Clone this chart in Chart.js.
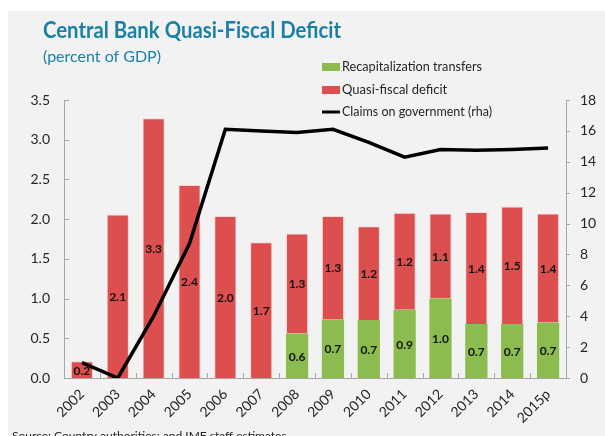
<!DOCTYPE html>
<html>
<head>
<meta charset="utf-8">
<script src="https://cdn.jsdelivr.net/npm/chart.js@4"></script>
<style>
  html, body { margin: 0; padding: 0; background: #fff; }
  #wrap { width: 605px; height: 436px; }
</style>
</head>
<body>
<div id="wrap"><canvas id="chart" width="605" height="436"></canvas></div>
<script>
// chart data
const years = ['2002', '2003', '2004', '2005', '2006', '2007', '2008', '2009', '2010', '2011', '2012', '2013', '2014', '2015p'];
const recapTransfers = [null, null, null, null, null, null, 0.56, 0.74, 0.73, 0.86, 1.0, 0.68, 0.68, 0.70];
const quasiDeficit = [0.21, 2.06, 3.27, 2.43, 2.04, 1.71, 1.26, 1.30, 1.18, 1.22, 1.07, 1.41, 1.48, 1.37];
const claimsOnGov = [1.0, 0, 4.0, 8.7, 16.1, 16.0, 15.9, 16.1, 15.25, 14.3, 14.8, 14.75, 14.8, 14.9];
const leftTicks = [0, 0.5, 1.0, 1.5, 2.0, 2.5, 3.0, 3.5];
const rightTicks = [0, 2, 4, 6, 8, 10, 12, 14, 16, 18];

const GREEN = '#8cbc4f';
const RED = '#dd4f4f';
const AXIS = '#a6a6a6';
const TEXT = '#262626';
const TICK_FONT = { family: 'Lato, "Open Sans", sans-serif', size: 14 };

// background, title, legend and source note
const decorations = {
    id: 'decorations',
    beforeDraw(chart) {
        const ctx = chart.ctx;
        ctx.save();
        ctx.fillStyle = '#fff';
        ctx.fillRect(0, 0, chart.width, chart.height);
        ctx.fillStyle = '#f2f2f2';
        ctx.fillRect(8, 11, chart.width - 8, chart.height - 11);
        ctx.restore();
    },
    beforeDatasetsDraw(chart) {
        // axis lines and small tick marks
        const ctx = chart.ctx;
        const y = chart.scales.y, y1 = chart.scales.y1;
        const a = chart.chartArea;
        ctx.save();
        ctx.strokeStyle = AXIS;
        ctx.lineWidth = 1;
        ctx.beginPath();
        ctx.moveTo(a.left + 0.5, a.top);
        ctx.lineTo(a.left + 0.5, a.bottom + 0.5);
        ctx.lineTo(a.right + 0.5, a.bottom + 0.5);
        ctx.moveTo(a.right + 0.5, a.top);
        ctx.lineTo(a.right + 0.5, a.bottom + 0.5);
        leftTicks.forEach(v => {
            const py = Math.round(y.getPixelForValue(v)) + 0.5;
            ctx.moveTo(a.left, py);
            ctx.lineTo(a.left + 5, py);
        });
        rightTicks.forEach(v => {
            const py = Math.round(y1.getPixelForValue(v)) + 0.5;
            ctx.moveTo(a.right, py);
            ctx.lineTo(a.right + 4, py);
        });
        const step = (a.right - a.left) / years.length;
        for (let i = 1; i < years.length; i++) {
            const px = Math.round(a.left + step * i) + 0.5;
            ctx.moveTo(px, a.bottom);
            ctx.lineTo(px, a.bottom - 5);
        }
        ctx.stroke();
        ctx.restore();
    },
    afterDraw(chart) {
        const ctx = chart.ctx;
        ctx.save();
        ctx.textBaseline = 'alphabetic';
        ctx.fillStyle = '#1a80a8';
        ctx.font = 'bold 22px Lato, "Open Sans", sans-serif';
        ctx.fillText('Central Bank Quasi-Fiscal Deficit', 43, 38, 298);
        ctx.font = '16px Lato, "Open Sans", sans-serif';
        ctx.fillText('(percent of GDP)', 43, 62);

        // legend
        ctx.font = '13px Lato, sans-serif';
        ctx.fillStyle = GREEN;
        ctx.fillRect(322, 63, 18, 8);
        ctx.fillStyle = RED;
        ctx.fillRect(322, 86, 18, 8);
        ctx.strokeStyle = '#000';
        ctx.lineWidth = 3;
        ctx.beginPath();
        ctx.moveTo(322, 112);
        ctx.lineTo(340, 112);
        ctx.stroke();
        ctx.fillStyle = TEXT;
        ctx.textBaseline = 'middle';
        ctx.fillText('Recapitalization transfers', 342, 67, 140);
        ctx.fillText('Quasi-fiscal deficit', 342, 90);
        ctx.fillText('Claims on government (rha)', 342, 112, 150);

        ctx.textBaseline = 'alphabetic';
        ctx.font = '12px Lato, "Open Sans", sans-serif';
        ctx.fillText('Source: Country authorities; and IMF staff estimates', 12, 440);
        ctx.restore();
    }
};

// value labels centred in each bar segment
const barLabels = {
    id: 'barLabels',
    afterDatasetsDraw(chart) {
        const ctx = chart.ctx;
        ctx.save();
        ctx.font = 'bold 12px Lato, "Open Sans", sans-serif';
        ctx.fillStyle = '#111';
        ctx.textAlign = 'center';
        ctx.textBaseline = 'middle';
        [0, 1].forEach(di => {
            const meta = chart.getDatasetMeta(di);
            meta.data.forEach((bar, i) => {
                const v = chart.data.datasets[di].data[i];
                if (v == null) return;
                const p = bar.getProps(['x', 'y', 'base'], true);
                ctx.fillText(v.toFixed(1), p.x, (p.y + p.base) / 2 + 1);
            });
        });
        ctx.restore();
    }
};

const ctx = document.getElementById('chart').getContext('2d');
new Chart(ctx, {
    type: 'bar',
    data: {
        labels: years,
        datasets: [
            {
                label: 'Recapitalization transfers',
                data: recapTransfers,
                backgroundColor: GREEN,
                yAxisID: 'y',
                stack: 's',
                order: 2,
                categoryPercentage: 1,
                barPercentage: 0.62
            },
            {
                label: 'Quasi-fiscal deficit',
                data: quasiDeficit,
                backgroundColor: RED,
                borderColor: 'rgba(255,200,200,0.6)',
                borderWidth: { top: 1, left: 1, right: 1, bottom: 0 },
                yAxisID: 'y',
                stack: 's',
                order: 2,
                categoryPercentage: 1,
                barPercentage: 0.62
            },
            {
                type: 'line',
                label: 'Claims on government (rha)',
                data: claimsOnGov,
                yAxisID: 'y1',
                borderColor: '#000',
                borderWidth: 3.5,
                pointRadius: 0,
                tension: 0,
                order: 0
            }
        ]
    },
    options: {
        responsive: false,
        animation: false,
        devicePixelRatio: 1,
        layout: { padding: { top: 100, left: 0, right: 0, bottom: 0 } },
        plugins: {
            legend: { display: false },
            title: { display: false },
            tooltip: { enabled: false }
        },
        scales: {
            x: {
                stacked: true,
                grid: { display: false },
                border: { display: false },
                ticks: {
                    color: TEXT,
                    font: TICK_FONT,
                    maxRotation: 45,
                    minRotation: 45,
                    padding: 0
                },
                afterFit(scale) { scale.height = 58; }
            },
            y: {
                position: 'left',
                stacked: true,
                min: 0,
                max: 3.5,
                grid: { display: false },
                border: { display: false },
                ticks: {
                    stepSize: 0.5,
                    color: TEXT,
                    font: TICK_FONT,
                    padding: 6,
                    callback: v => v.toFixed(1)
                },
                afterFit(scale) { scale.width = 64; }
            },
            y1: {
                position: 'right',
                min: 0,
                max: 18,
                grid: { display: false },
                border: { display: false },
                ticks: {
                    stepSize: 2,
                    color: TEXT,
                    font: TICK_FONT,
                    padding: 6
                },
                afterFit(scale) { scale.width = 39; }
            }
        }
    },
    plugins: [decorations, barLabels]
});
</script>
</body>
</html>
